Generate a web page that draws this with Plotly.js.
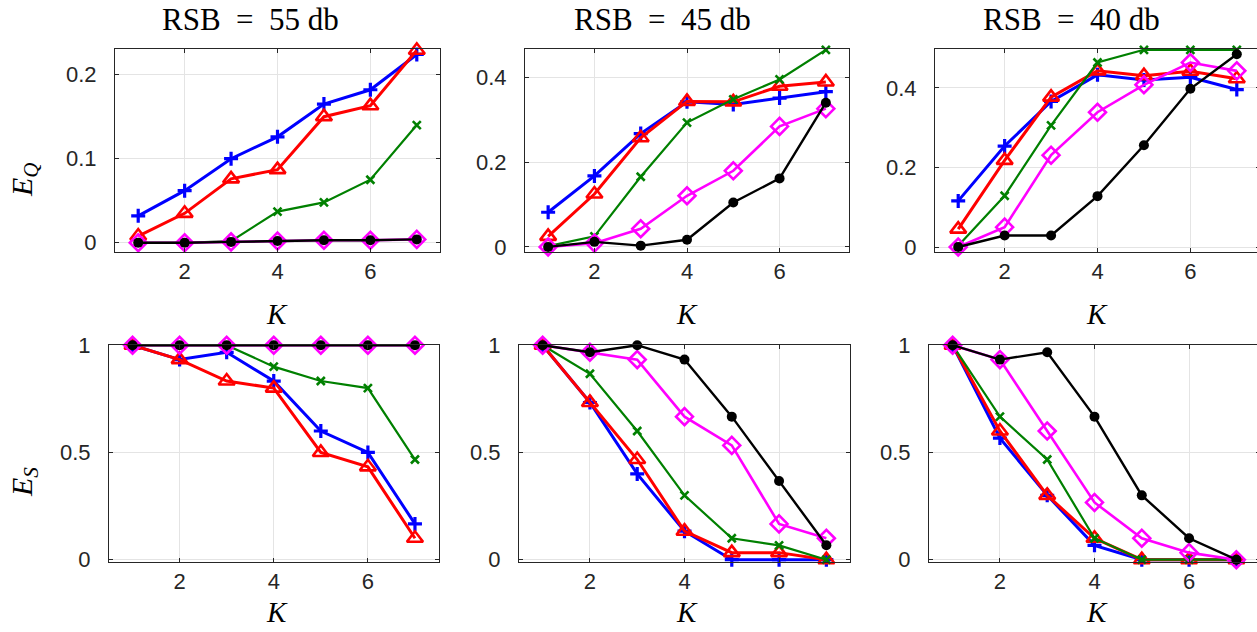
<!DOCTYPE html>
<html>
<head>
<meta charset="utf-8">
<script src="https://cdn.plot.ly/plotly-3.0.1.min.js"></script>
<style>
html,body{margin:0;padding:0;overflow:hidden;background:#fff;}
#chart{width:1260px;height:632px;}
</style>
</head>
<body>
<div id="chart"></div>
<script>
// ---- data ----
const K = [1, 2, 3, 4, 5, 6, 7];
const titles = ["RSB\u00A0 =\u00A0 55 db", "RSB\u00A0 =\u00A0 45 db", "RSB\u00A0 =\u00A0 40 db"];
const xTicks = [2, 4, 6];
const yTicksEQ = [[0, 0.1, 0.2], [0, 0.2, 0.4], [0, 0.2, 0.4]];
const yTicksES = [0, 0.5, 1];

// E_Q, RSB = 55 db
const eq55Blue    = [0.032, 0.062, 0.100, 0.126, 0.165, 0.182, 0.224];
const eq55Red     = [0.008, 0.035, 0.076, 0.087, 0.150, 0.163, 0.229];
const eq55Green   = [0.000, 0.000, 0.002, 0.037, 0.048, 0.075, 0.140];
const eq55Magenta = [0.000, 0.000, 0.001, 0.002, 0.003, 0.003, 0.004];
const eq55Black   = [0.000, 0.000, 0.001, 0.002, 0.003, 0.003, 0.004];
// E_Q, RSB = 45 db
const eq45Blue    = [0.082, 0.168, 0.268, 0.343, 0.337, 0.352, 0.367];
const eq45Red     = [0.025, 0.125, 0.258, 0.344, 0.343, 0.380, 0.390];
const eq45Green   = [0.002, 0.025, 0.166, 0.294, 0.349, 0.396, 0.466];
const eq45Magenta = [0.000, 0.009, 0.043, 0.121, 0.180, 0.285, 0.327];
const eq45Black   = [0.000, 0.012, 0.003, 0.017, 0.105, 0.162, 0.341];
// E_Q, RSB = 40 db
const eq40Blue    = [0.116, 0.254, 0.366, 0.433, 0.420, 0.427, 0.396];
const eq40Red     = [0.045, 0.218, 0.377, 0.443, 0.431, 0.442, 0.423];
const eq40Green   = [0.003, 0.129, 0.306, 0.464, 0.496, 0.496, 0.496];
const eq40Magenta = [0.000, 0.050, 0.231, 0.339, 0.408, 0.464, 0.443];
const eq40Black   = [0.000, 0.029, 0.029, 0.128, 0.256, 0.398, 0.485];
// E_S, RSB = 55 db
const es55Blue    = [1, 0.933, 0.967, 0.833, 0.600, 0.500, 0.167];
const es55Red     = [1, 0.933, 0.833, 0.800, 0.500, 0.433, 0.100];
const es55Green   = [1, 1, 1, 0.900, 0.833, 0.800, 0.467];
const es55Magenta = [1, 1, 1, 1, 1, 1, 1];
const es55Black   = [1, 1, 1, 1, 1, 1, 1];
// E_S, RSB = 45 db
const es45Blue    = [1, 0.733, 0.400, 0.133, 0, 0, 0];
const es45Red     = [1, 0.733, 0.467, 0.133, 0.033, 0.033, 0];
const es45Green   = [1, 0.867, 0.600, 0.300, 0.100, 0.067, 0];
const es45Magenta = [1, 0.967, 0.933, 0.667, 0.533, 0.167, 0.100];
const es45Black   = [1, 0.967, 1, 0.933, 0.667, 0.367, 0.067];
// E_S, RSB = 40 db
const es40Blue    = [1, 0.567, 0.300, 0.067, 0, 0, 0];
const es40Red     = [1, 0.600, 0.300, 0.100, 0, 0, 0];
const es40Green   = [1, 0.667, 0.467, 0.100, 0, 0, 0];
const es40Magenta = [1, 0.933, 0.600, 0.267, 0.100, 0.033, 0];
const es40Black   = [1, 0.933, 0.967, 0.667, 0.300, 0.100, 0];

// ---- styles ----
const styles = {
  blue:    {color: '#0000ff', width: 3,   symbol: 'cross-thin-open',   size: 10, mlw: 3.2},
  red:     {color: '#ff0000', width: 3,   symbol: 'triangle-up-open',  size: 14, mlw: 2.6},
  green:   {color: '#008000', width: 2.2, symbol: 'x-thin-open',       size: 8,  mlw: 2.6},
  magenta: {color: '#ff00ff', width: 2.6, symbol: 'diamond-open',      size: 13, mlw: 2.6},
  black:   {color: '#000000', width: 2.4, symbol: 'circle',            size: 10, mlw: 0}
};

const panels = [
  {ax: '',  series: {blue: eq55Blue, red: eq55Red, green: eq55Green, magenta: eq55Magenta, black: eq55Black}},
  {ax: '2', series: {blue: eq45Blue, red: eq45Red, green: eq45Green, magenta: eq45Magenta, black: eq45Black}},
  {ax: '3', series: {blue: eq40Blue, red: eq40Red, green: eq40Green, magenta: eq40Magenta, black: eq40Black}},
  {ax: '4', series: {blue: es55Blue, red: es55Red, green: es55Green, magenta: es55Magenta, black: es55Black}},
  {ax: '5', series: {blue: es45Blue, red: es45Red, green: es45Green, magenta: es45Magenta, black: es45Black}},
  {ax: '6', series: {blue: es40Blue, red: es40Red, green: es40Green, magenta: es40Magenta, black: es40Black}}
];

const data = [];
panels.forEach(p => {
  ['blue', 'red', 'green', 'magenta', 'black'].forEach(k => {
    const s = styles[k];
    data.push({
      x: K, y: p.series[k], type: 'scatter', mode: 'lines+markers',
      xaxis: 'x' + p.ax, yaxis: 'y' + p.ax, cliponaxis: false, showlegend: false,
      line: {color: s.color, width: s.width},
      marker: {symbol: s.symbol, size: s.size, color: s.color,
               line: {color: s.color, width: s.mlw}}
    });
  });
});

// ---- layout ----
const W = 1260, H = 632;
const px = v => v / W, py = v => 1 - v / H;
const xDom = [[115, 440], [525, 849], [935, 1260], [109, 438.5], [519, 850], [929, 1260]];
const yDom = [[49, 252], [49, 252], [49, 252], [345, 562], [345, 562], [345, 562]];
const yRanges = [[-0.011, 0.2305], [-0.012, 0.468], [-0.0125, 0.498], [-0.0107, 1.001], [-0.0107, 1.001], [-0.0107, 1.001]];
const yTicks = [yTicksEQ[0], yTicksEQ[1], yTicksEQ[2], yTicksES, yTicksES, yTicksES];

const tickFont = {family: 'Liberation Sans, Arial, sans-serif', size: 22, color: '#262626'};
const layout = {
  width: W, height: H, margin: {l: 0, r: 0, t: 0, b: 0},
  paper_bgcolor: '#ffffff', plot_bgcolor: '#ffffff', showlegend: false,
  annotations: []
};
panels.forEach((p, i) => {
  layout['xaxis' + p.ax] = {
    domain: [px(xDom[i][0]), px(xDom[i][1])], range: [0.5, 7.5],
    anchor: 'y' + p.ax, tickvals: xTicks, ticks: 'inside', ticklen: 4,
    tickcolor: '#262626', showline: true, linecolor: '#262626', linewidth: 1,
    mirror: 'ticks', showgrid: true, gridcolor: '#e4e4e4', gridwidth: 1,
    zeroline: false, tickfont: tickFont, ticklabelstandoff: 0, fixedrange: true
  };
  layout['yaxis' + p.ax] = {
    domain: [py(yDom[i][1]), py(yDom[i][0])], range: yRanges[i],
    anchor: 'x' + p.ax, tickvals: yTicks[i], ticks: 'inside', ticklen: 4,
    tickcolor: '#262626', showline: true, linecolor: '#262626', linewidth: 1,
    mirror: 'ticks', showgrid: true, gridcolor: '#e4e4e4', gridwidth: 1,
    zeroline: false, tickfont: tickFont, ticklabelstandoff: 13, fixedrange: true
  };
});

const serif = 'Liberation Serif, Times New Roman, serif';
const titleX = [251, 662, 1071];
titles.forEach((t, i) => {
  layout.annotations.push({text: t, xref: 'paper', yref: 'paper', x: px(titleX[i]), y: py(20),
    xanchor: 'center', yanchor: 'middle', showarrow: false, font: {family: serif, size: 31, color: '#000'}});
});
const kX = [277, 687, 1097];
[314, 612].forEach(yy => kX.forEach(xx => {
  layout.annotations.push({text: '<i>K</i>', xref: 'paper', yref: 'paper', x: px(xx), y: py(yy),
    xanchor: 'center', yanchor: 'middle', showarrow: false, font: {family: serif, size: 29, color: '#000'}});
}));
layout.annotations.push({text: '<i>E</i><sub><i>Q</i></sub>', xref: 'paper', yref: 'paper', x: px(24), y: py(180),
  xanchor: 'center', yanchor: 'middle', textangle: -90, showarrow: false, font: {family: serif, size: 30, color: '#000'}});
layout.annotations.push({text: '<i>E</i><sub><i>S</i></sub>', xref: 'paper', yref: 'paper', x: px(24), y: py(482),
  xanchor: 'center', yanchor: 'middle', textangle: -90, showarrow: false, font: {family: serif, size: 30, color: '#000'}});

Plotly.newPlot('chart', data, layout, {staticPlot: true, displayModeBar: false});
</script>
</body>
</html>
